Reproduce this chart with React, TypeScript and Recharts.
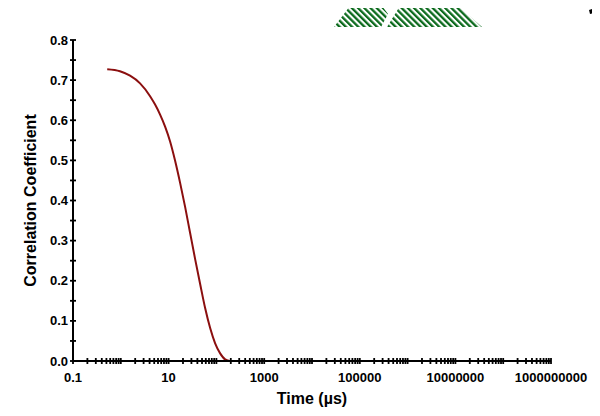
import React from 'react';
import { LineChart, Line, XAxis, YAxis } from 'recharts';

// time in µs, correlation coefficient
const times = [0.52, 0.96, 1.56, 2.53, 4.1, 5.22, 6.64, 8.45, 10.75, 13.68, 17.41, 22.16, 28.2, 35.9, 45.7, 58.1, 74, 94.1, 119.8, 152.5, 194, 300, 1000, 10000, 100000, 1000000, 10000000, 130000000];
const corr = [0.727, 0.722, 0.711, 0.692, 0.660, 0.639, 0.614, 0.584, 0.547, 0.499, 0.444, 0.384, 0.319, 0.254, 0.192, 0.132, 0.082, 0.044, 0.019, 0.004, 0, 0, 0, 0, 0, 0, 0, 0];

const decades = [0.1, 1, 10, 100, 1000, 10000, 100000, 1000000, 10000000, 100000000, 1000000000];
const labeledTimes = [0.1, 10, 1000, 100000, 10000000, 1000000000];
const minorSteps = [2, 3, 4, 5, 6, 7, 8, 9];
const yTicks = [0, 0.05, 0.1, 0.15, 0.2, 0.25, 0.3, 0.35, 0.4, 0.45, 0.5, 0.55, 0.6, 0.65, 0.7, 0.75, 0.8];

const data = times.map((t, i) => ({ t, r: corr[i] }));

const xTicks: number[] = [];
decades.forEach((d, i) => {
    xTicks.push(d);
    if (i < decades.length - 1) minorSteps.forEach(m => xTicks.push(d * m));
});

const FONT = '"Liberation Sans", Arial, sans-serif';

const XTick = ({ x, y, payload }: any) => {
    const v = payload.value;
    const show = labeledTimes.some(l => Math.abs(Math.log10(l) - Math.log10(v)) < 1e-6);
    return (
        <g>
            <line x1={x} x2={x} y1={y - 3} y2={y + 3} stroke="#000" strokeWidth={1.8} />
            {show && (
                <text x={x} y={y + 21} textAnchor="middle" fontFamily={FONT} fontWeight="bold" fontSize={13} fill="#000">
                    {String(v)}
                </text>
            )}
        </g>
    );
};

const YTick = ({ x, y, payload }: any) => {
    const v = payload.value;
    const show = Math.abs(v * 10 - Math.round(v * 10)) < 1e-6;
    return (
        <g>
            <line x1={x - 3} x2={x + 3} y1={y} y2={y} stroke="#000" strokeWidth={1.8} />
            {show && (
                <text x={x - 5} y={y + 4.5} textAnchor="end" fontFamily={FONT} fontWeight="bold" fontSize={13} fill="#000">
                    {v.toFixed(1)}
                </text>
            )}
        </g>
    );
};

const Hatch = () => (
    <svg width={600} height={40} style={{ position: 'absolute', left: -8, top: -8 }}>
        <defs>
            <pattern id="hatch" patternUnits="userSpaceOnUse" width={4.4} height={4.4} patternTransform="rotate(-45)">
                <rect x={0} y={0} width={2.3} height={4.4} fill="#0b6a1c" />
            </pattern>
        </defs>
        <polygon points="334,27 350,6 382,6 388,14 381,27" fill="url(#hatch)" />
        <polygon points="387,27 400,6 458,6 482,27" fill="url(#hatch)" />
        <polygon points="589,10 597,7 599,12 590,14" fill="#000" />
    </svg>
);

export default function App() {
    return (
        <div style={{ position: 'relative', width: 592, height: 400 }}>
            <Hatch />
            <LineChart width={592} height={400} data={data} margin={{ top: 32, right: 49, left: 0, bottom: 0 }}>
                <XAxis
                    dataKey="t"
                    type="number"
                    scale="log"
                    domain={[0.1, 1000000000]}
                    ticks={xTicks}
                    interval={0}
                    allowDataOverflow
                    height={47}
                    tickSize={0}
                    tickMargin={0}
                    tick={<XTick />}
                    axisLine={{ stroke: '#000', strokeWidth: 2 }}
                    tickLine={false}
                    label={{ value: 'Time (µs)', position: 'insideBottom', offset: 4, style: { fontFamily: FONT, fontWeight: 'bold', fontSize: 16, fill: '#000' } }}
                />
                <YAxis
                    type="number"
                    domain={[0, 0.8]}
                    ticks={yTicks}
                    interval={0}
                    width={65}
                    tickSize={0}
                    tickMargin={0}
                    tick={<YTick />}
                    axisLine={{ stroke: '#000', strokeWidth: 2 }}
                    tickLine={false}
                    label={{ value: 'Correlation Coefficient', angle: -90, position: 'insideLeft', offset: 22, style: { textAnchor: 'middle', fontFamily: FONT, fontWeight: 'bold', fontSize: 16, fill: '#000' } }}
                />
                <Line
                    dataKey="r"
                    type="monotone"
                    stroke="#8b0f0f"
                    strokeWidth={2}
                    dot={false}
                    isAnimationActive={false}
                />
            </LineChart>
        </div>
    );
}
